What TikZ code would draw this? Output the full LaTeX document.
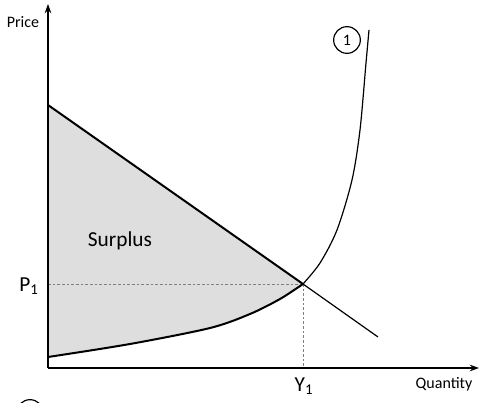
\documentclass[tikz,border=0pt]{standalone}
\usepackage{fontspec}
\setmainfont{Carlito}
\usetikzlibrary{arrows.meta}
\begin{document}
\begin{tikzpicture}[x=0.75pt,y=-0.75pt,
  axis/.style={line width=0.9pt,-{Stealth[length=7pt,width=5pt]}},
  bold/.style={line width=1.5pt},
  thin/.style={line width=0.9pt},
  guide/.style={gray,line width=0.6pt,dash pattern=on 2pt off 1.5pt},
  lbl/.style={inner sep=0pt,font=\fontsize{12}{14}\selectfont},
  big/.style={inner sep=0pt,font=\fontsize{16}{19}\selectfont}]
\useasboundingbox (0,0) rectangle (480,403);
\coordinate (O) at (48,368);
\coordinate (Ytop) at (48,4);
\coordinate (Xend) at (479,368);
\coordinate (D0) at (48,105);
\coordinate (D1) at (378,337);
\coordinate (E) at (303,284);
\coordinate (S0) at (48,357);
\coordinate (Pax) at (48,284);
\coordinate (Yax) at (303,368);
% shading
\fill[black!13] (D0) -- (E) -- plot[smooth] coordinates {(303,284) (280,299) (250,314) (210,328) (130,344) (48,357)} -- cycle;
% guides
\draw[guide] (Pax) -- (E);
\draw[guide] (E) -- (Yax);
% axes
\draw[axis] (O) -- (Ytop);
\draw[axis] (O) -- (Xend);
% left bold edge
\draw[bold] (D0) -- (S0);
% demand
\draw[bold] (D0) -- (E);
\draw[thin] (E) -- (D1);
% supply
\draw[bold] plot[smooth] coordinates {(48,357) (130,344) (210,328) (250,314) (280,299) (303,284)};
\draw[thin] plot[smooth] coordinates {(303,284) (320,263) (337,230) (352,180) (360,130) (366,63) (369,30)};
% labels
\node[lbl] (price) at (23,22) {Price};
\node[lbl] (qty) at (444,384) {Quantity};
\node[big] (surplus) at (120,241) {Surplus};
\node[big] (p1) at (29,286) {P\textsubscript{1}};
\node[big] (y1) at (304,386) {Y\textsubscript{1}};
\node[draw,circle,line width=0.9pt,minimum size=20pt,inner sep=0pt,font=\fontsize{12}{14}\selectfont] (c1) at (347,40) {1};
\begin{scope}
\clip (0,0) rectangle (480,403);
\node[draw,circle,line width=0.9pt,minimum size=20pt,inner sep=0pt] (c2) at (30,413) {};
\end{scope}
\end{tikzpicture}
\end{document}
